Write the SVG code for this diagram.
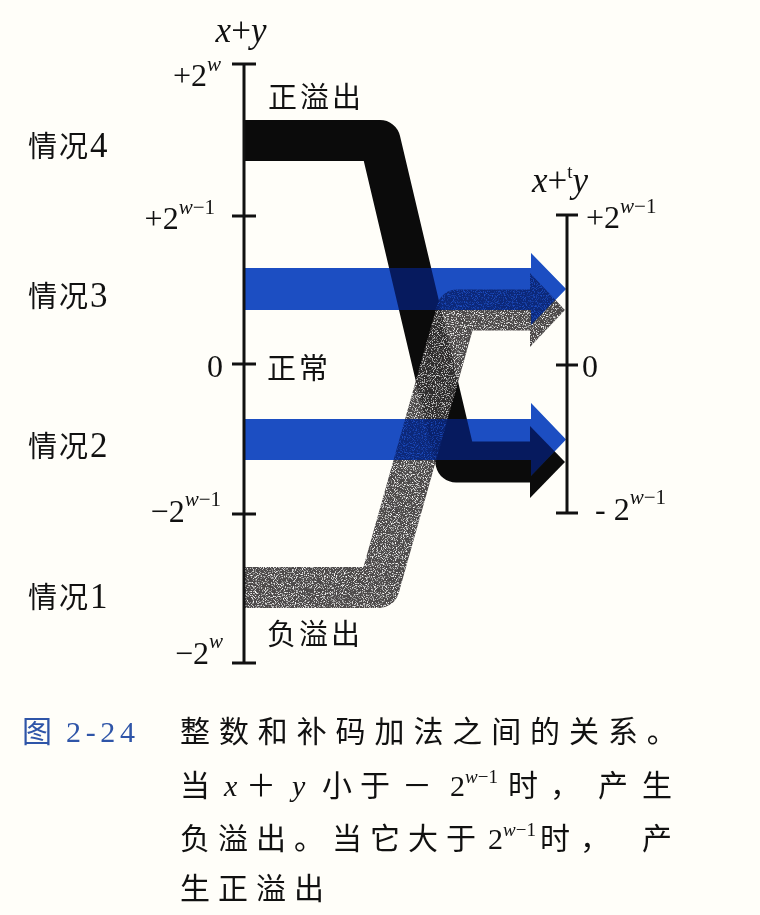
<svg xmlns="http://www.w3.org/2000/svg" width="760" height="915" viewBox="0 0 760 915">
  <style>
    .t { font-family: "Liberation Serif", "Noto Sans CJK SC", serif; fill: #111; }
    .num { font-size: 32px; }
    .sup { font-size: 21px; }
    .it { font-style: italic; }
    .cjk { font-size: 29px; }
    .dig { font-size: 35px; }
    .cap { font-family: "Liberation Serif", "Noto Sans CJK SC", serif; font-size: 30px; fill: #111; }
    .axis { stroke: #111; stroke-width: 3; fill: none; }
    .band { fill: none; stroke-width: 41; stroke-linejoin: round; stroke-linecap: butt; }
    .blue { fill: #2f6dd6; }
    .blue-tint { opacity: 0.5; }
    .blue-mul { mix-blend-mode: multiply; }
  </style>
  <rect width="760" height="915" fill="#fffef9"/>

  <defs>
    <polygon id="arrow3" points="245,268 531,268 531,253 566,289 531,325 531,310 245,310"/>
    <polygon id="arrow2" points="245,419 531,419 531,403 566,439.5 531,476 531,460 245,460"/>
    <filter id="grain" filterUnits="userSpaceOnUse" x="230" y="250" width="360" height="380">
      <feTurbulence type="fractalNoise" baseFrequency="0.9" numOctaves="2" seed="7" result="noise"/>
      <feColorMatrix in="noise" type="matrix" values="0 0 0 0 1  0 0 0 0 1  0 0 0 0 1  4 0 0 0 -2.1" result="specks"/>
      <feComposite in="specks" in2="SourceGraphic" operator="in" result="specksIn"/>
      <feMerge>
        <feMergeNode in="SourceGraphic"/>
        <feMergeNode in="specksIn"/>
      </feMerge>
    </filter>
  </defs>

  <g id="connectors">
    <g id="case4-band">
      <path class="band" stroke="#0b0b0b" d="M245 140.5 L380 140.5 L456 462 L530 462"/>
      <polygon fill="#0b0b0b" points="530,426 565,462 530,498"/>
    </g>
    <g id="case1-band" opacity="0.88" filter="url(#grain)">
      <path class="band" stroke="#363232" d="M245 587.5 L379 587.5 L457 310 L530 310"/>
      <polygon fill="#363232" points="530,273 565,310 530,347"/>
    </g>
    <g id="case3-band">
      <use href="#arrow3" class="blue blue-tint"/>
      <use href="#arrow3" class="blue blue-mul"/>
    </g>
    <g id="case2-band">
      <use href="#arrow2" class="blue blue-tint"/>
      <use href="#arrow2" class="blue blue-mul"/>
    </g>
  </g>

  <g id="axis-left">
    <line class="axis" x1="244" y1="64" x2="244" y2="663"/>
    <line class="axis" x1="232" y1="64" x2="256" y2="64"/>
    <line class="axis" x1="232" y1="216" x2="256" y2="216"/>
    <line class="axis" x1="232" y1="364" x2="256" y2="364"/>
    <line class="axis" x1="232" y1="514" x2="256" y2="514"/>
    <line class="axis" x1="232" y1="663" x2="256" y2="663"/>
    <text class="t it" x="241" y="42" font-size="35" text-anchor="middle">x<tspan font-style="normal">+</tspan>y</text>
    <text class="t num" x="221" y="86" text-anchor="end">+2<tspan class="sup it" dy="-15">w</tspan></text>
    <text class="t num" x="215" y="229" text-anchor="end">+2<tspan class="sup" dy="-15"><tspan class="it">w</tspan>−1</tspan></text>
    <text class="t num" x="223" y="377" text-anchor="end">0</text>
    <text class="t num" x="221" y="522" text-anchor="end">−2<tspan class="sup" dy="-16"><tspan class="it">w</tspan>−1</tspan></text>
    <text class="t num" x="223" y="664" text-anchor="end">−2<tspan class="sup it" dy="-16">w</tspan></text>
  </g>

  <g id="axis-right">
    <line class="axis" x1="567" y1="215" x2="567" y2="513"/>
    <line class="axis" x1="556" y1="215" x2="578" y2="215"/>
    <line class="axis" x1="556" y1="365" x2="578" y2="365"/>
    <line class="axis" x1="556" y1="513" x2="578" y2="513"/>
    <text class="t" x="532" y="192" font-size="35"><tspan class="it">x</tspan>+<tspan font-size="19" dy="-14">t</tspan><tspan class="it" dy="14">y</tspan></text>
    <text class="t num" x="586" y="228">+2<tspan class="sup" dy="-15"><tspan class="it">w</tspan>−1</tspan></text>
    <text class="t num" x="582" y="377">0</text>
    <text class="t num" x="595" y="520">- 2<tspan class="sup" dy="-16"><tspan class="it">w</tspan>−1</tspan></text>
  </g>

  <g id="case-labels">
    <text id="label-case4" class="t cjk" x="28" y="157" letter-spacing="2">情况<tspan class="dig">4</tspan></text>
    <text id="label-case3" class="t cjk" x="28" y="307" letter-spacing="2">情况<tspan class="dig">3</tspan></text>
    <text id="label-case2" class="t cjk" x="28" y="457" letter-spacing="2">情况<tspan class="dig">2</tspan></text>
    <text id="label-case1" class="t cjk" x="28" y="608" letter-spacing="2">情况<tspan class="dig">1</tspan></text>
  </g>

  <g id="region-labels">
    <text id="label-pos-overflow" class="t cjk" x="268" y="108" letter-spacing="3">正溢出</text>
    <text id="label-normal" class="t cjk" x="267" y="379" letter-spacing="3">正常</text>
    <text id="label-neg-overflow" class="t cjk" x="267" y="645" letter-spacing="3">负溢出</text>
  </g>

  <g id="caption">
    <text class="cap" x="22" y="742" style="fill:#2f55a8">图</text>
    <text class="cap" x="66" y="742" style="fill:#2f55a8" textLength="69" lengthAdjust="spacing">2-24</text>
    <text class="cap" x="180" y="742" letter-spacing="8.9">整数和补码加法之间的关系。</text>

    <text class="cap" x="180" y="796">当</text>
    <text class="cap it" x="224" y="796">x</text>
    <text class="cap" x="246" y="796">＋</text>
    <text class="cap it" x="292" y="796">y</text>
    <text class="cap" x="322" y="796">小</text>
    <text class="cap" x="360" y="796">于</text>
    <text class="cap" x="402" y="796">－</text>
    <text class="cap" x="450" y="796">2<tspan font-size="19" dy="-13"><tspan class="it">w</tspan>−1</tspan></text>
    <text class="cap" x="508" y="796">时</text>
    <text class="cap" x="550" y="796">，</text>
    <text class="cap" x="598" y="796">产</text>
    <text class="cap" x="642" y="796">生</text>

    <text class="cap" x="180" y="849" letter-spacing="8">负溢出。当它大于</text>
    <text class="cap" x="488" y="849">2<tspan font-size="19" dy="-13"><tspan class="it">w</tspan>−1</tspan></text>
    <text class="cap" x="540" y="849">时</text>
    <text class="cap" x="580" y="849">，</text>
    <text class="cap" x="642" y="849">产</text>

    <text class="cap" x="180" y="899" letter-spacing="8">生正溢出</text>
  </g>
</svg>
